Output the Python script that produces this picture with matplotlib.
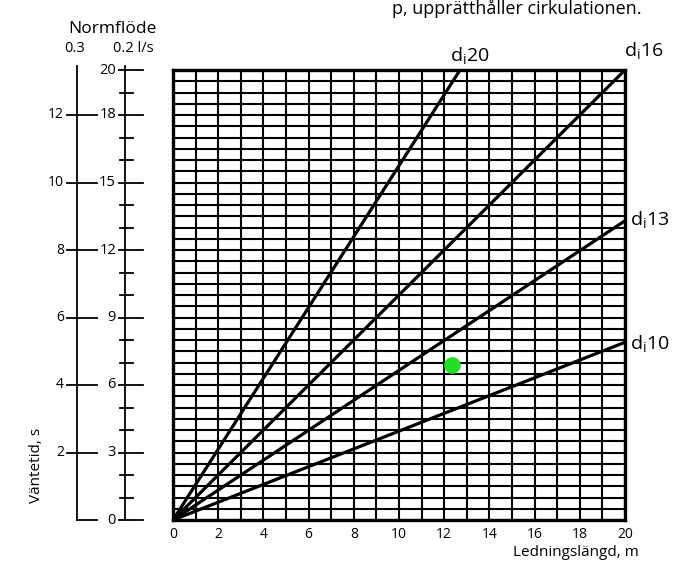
import matplotlib
matplotlib.use("Agg")
import matplotlib.pyplot as plt
import numpy as np

plt.rcParams['font.family'] = ['Open Sans', 'DejaVu Sans']
plt.rcParams['mathtext.fontset'] = 'custom'
plt.rcParams['mathtext.rm'] = 'Open Sans'

# diagonal lines: end point (length m, waiting time s at 0.2 l/s)
pipes = ['20', '16', '13', '10']
end_x = [12.7, 20.0, 20.0, 20.0]
end_y = [20.0, 20.0, 13.3, 7.9]

# green marker
dot_x = [12.35]
dot_y = [6.9]

x_ticks = list(range(0, 21, 2))
inner_labels = [0, 3, 6, 9, 12, 15, 18, 20]   # 0.2 l/s scale
outer_labels = [2, 4, 6, 8, 10, 12]           # 0.3 l/s scale

fig = plt.figure(figsize=(7, 5.7), dpi=100)
W, H = 700, 570
x0, x1, y0, y1 = 173, 625, 520, 70
ax = fig.add_axes([x0 / W, 1 - y0 / H, (x1 - x0) / W, (y0 - y1) / H])
ax.set_xlim(0, 20)
ax.set_ylim(0, 20)

# grid
ax.vlines(np.arange(0, 21, 1), 0, 20, color='black', lw=1.5, zorder=1)
ax.hlines(np.arange(0, 20.01, 0.5), 0, 20, color='black', lw=1.5, zorder=1)
for s in ax.spines.values():
    s.set_linewidth(2.4)

for p, ex, ey in zip(pipes, end_x, end_y):
    ax.plot([0, ex], [0, ey], color='black', lw=2.3, solid_capstyle='butt', zorder=3)

ax.plot(dot_x, dot_y, 'o', color='#22e022', ms=11, zorder=4)

# pipe labels
ax.text(12.25, 20.2, r'$\mathregular{d_i}$20', fontsize=14, ha='left', va='bottom')
ax.text(19.95, 20.4, r'$\mathregular{d_i}$16', fontsize=14, ha='left', va='bottom')
ax.text(20.2, 12.9, r'$\mathregular{d_i}$13', fontsize=14, ha='left', va='bottom')
ax.text(20.2, 7.4, r'$\mathregular{d_i}$10', fontsize=14, ha='left', va='bottom')

ax.set_xticks(x_ticks)
ax.set_xticklabels([str(v) for v in x_ticks], fontsize=10)
ax.tick_params(axis='x', length=0, pad=5)
ax.set_yticks([])
ax.text(1.03, -0.055, 'Ledningslängd, m', transform=ax.transAxes, fontsize=11,
        ha='right', va='top')

# left double scale
sc = fig.add_axes([0, 1 - y0 / H, x0 / W, (y0 - y1) / H])
sc.set_xlim(0, x0)
sc.set_ylim(0, 20)
sc.axis('off')
xo, xi = 77, 125
sc.plot([xo, xo], [0, 20.2], color='black', lw=1.3, clip_on=False)
sc.plot([xi, xi], [0, 20.2], color='black', lw=1.3, clip_on=False)
sc.plot([xo, xo + 20], [0, 0], color='black', lw=1.3, clip_on=False)
for v in outer_labels:
    y = v * 1.5
    sc.plot([xo - 10, xo + 20], [y, y], color='black', lw=1.3, clip_on=False)
    sc.text(xo - 13, y, str(v), ha='right', va='center', fontsize=10)
for v in range(0, 21):
    if v in inner_labels:
        sc.plot([xi - 6, xi + 18], [v, v], color='black', lw=1.3, clip_on=False)
        sc.text(xi - 9, v, str(v), ha='right', va='center', fontsize=10.5)
    else:
        sc.plot([xi - 5, xi + 8], [v, v], color='black', lw=1.3, clip_on=False)

fig.text(112 / W, 1 - 29 / H, 'Normflöde', ha='center', va='center', fontsize=12.5)
fig.text(75 / W, 1 - 48 / H, '0.3', ha='center', va='center', fontsize=10.5)
fig.text(113 / W, 1 - 48 / H, '0.2 l/s', ha='left', va='center', fontsize=10.5)
fig.text(36 / W, 1 - 465 / H, 'Väntetid, s', ha='center', va='center',
         rotation=90, fontsize=11)
fig.text(392 / W, 1 - 14 / H, 'p, upprätthåller cirkulationen.', ha='left',
         va='baseline', fontsize=13)

fig.savefig('out.png', dpi=100)
